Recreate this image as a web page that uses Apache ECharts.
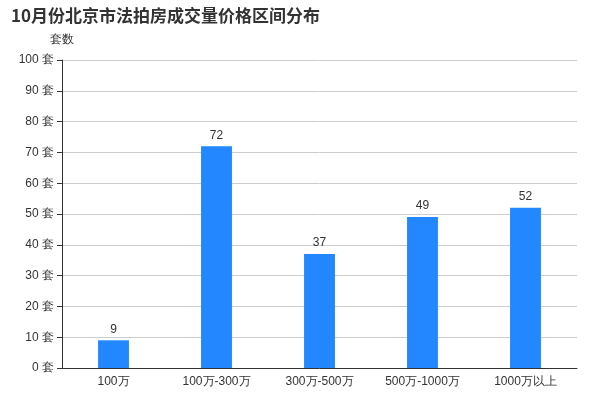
<!DOCTYPE html>
<html><head><meta charset="utf-8">
<script src="https://cdn.jsdelivr.net/npm/echarts@6/dist/echarts.min.js"></script>
<style>html,body{margin:0;padding:0}#main{width:600px;height:400px}</style>
</head><body><div id="main"></div>
<script>
var categories = ['100万', '100万-300万', '300万-500万', '500万-1000万', '1000万以上'];
var counts = [9, 72, 37, 49, 52];

var chart = echarts.init(document.getElementById('main'));
chart.setOption({
  title: {
    text: '10月份北京市法拍房成交量价格区间分布',
    left: 6, top: 2,
    textStyle: { fontSize: 17, fontWeight: 'bold', color: '#333', fontFamily: 'Noto Sans CJK SC' }
  },
  grid: { left: 62, right: 23, top: 60, bottom: 32 },
  xAxis: {
    type: 'category',
    data: categories,
    axisLine: { lineStyle: { color: '#333' } },
    axisLabel: { color: '#333', fontSize: 12 }
  },
  yAxis: {
    type: 'value',
    name: '套数',
    nameGap: 14,
    nameTextStyle: { color: '#333', align: 'center' },
    min: 0, max: 100, interval: 10,
    axisLine: { show: true, lineStyle: { color: '#333' } },
    axisTick: { show: true },
    axisLabel: { formatter: '{value} 套', color: '#333', fontSize: 12 },
    splitLine: { lineStyle: { color: '#ccc' } }
  },
  series: [{
    type: 'bar',
    data: counts,
    barWidth: '30%',
    itemStyle: { color: '#2388ff' },
    label: { show: true, position: 'top', color: '#333', fontSize: 12 }
  }]
});
</script></body></html>
